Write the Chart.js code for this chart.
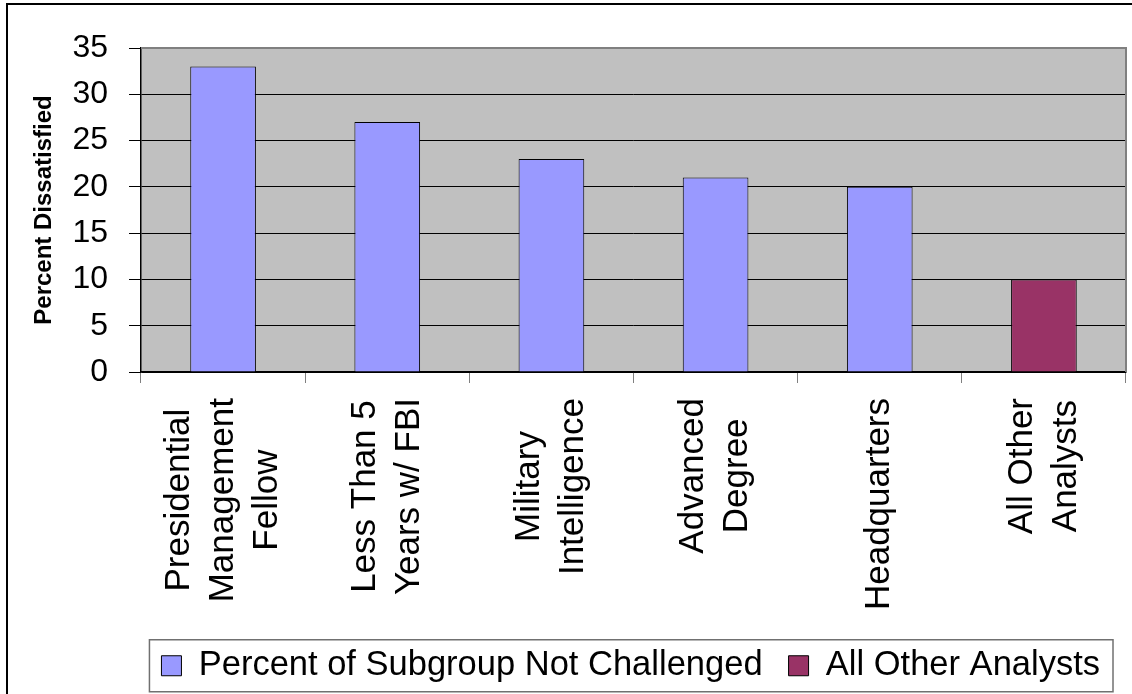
<!DOCTYPE html>
<html><head><meta charset="utf-8">
<script src="https://cdn.jsdelivr.net/npm/chart.js@4"></script>
<style>html,body{margin:0;padding:0;background:#fff;overflow:hidden}#wrap{width:1132px;height:694px;position:relative}</style>
</head><body><div id="wrap"><canvas id="c"></canvas></div>
<script>
const categories = [["Presidential","Management","Fellow"],["Less Than 5","Years w/ FBI"],["Military","Intelligence"],["Advanced","Degree"],["Headquarters"],["All Other","Analysts"]];
const subgroupValues = [33, 27, 23, 21, 20, null];
const otherValues = [null, null, null, null, null, 10];
const yTicks = [0, 5, 10, 15, 20, 25, 30, 35];
const seriesNames = ["Percent of Subgroup Not Challenged", "All Other Analysts"];
const yTitle = "Percent Dissatisfied";
const FONT = '"Liberation Sans", Arial, sans-serif';

const frame = {
  id: 'frame',
  beforeDraw(chart) {
    const {ctx, chartArea: a} = chart;
    ctx.save();
    ctx.fillStyle = '#fff'; ctx.fillRect(0, 0, chart.width, chart.height);
    ctx.fillStyle = '#C0C0C0'; ctx.fillRect(a.left, a.top, a.right - a.left, a.bottom - a.top);
    ctx.restore();
  },
  afterDraw(chart) {
    const {ctx, chartArea: a} = chart;
    ctx.save();
    ctx.strokeStyle = '#808080'; ctx.lineWidth = 2;
    ctx.beginPath(); ctx.moveTo(a.left, a.top); ctx.lineTo(a.right, a.top); ctx.lineTo(a.right, a.bottom); ctx.stroke();
    ctx.strokeStyle = '#000'; ctx.lineWidth = 2;
    ctx.beginPath(); ctx.moveTo(7, chart.height); ctx.lineTo(7, 4); ctx.lineTo(chart.width, 4); ctx.stroke();
    const hb = chart.legend && chart.legend.legendHitBoxes;
    if (hb && hb.length) {
      const last = hb[hb.length - 1];
      const l = hb[0].left - 12, r = last.left + last.width + 13;
      const cy = hb[0].top + hb[0].height / 2;
      ctx.strokeStyle = '#707070'; ctx.lineWidth = 1.5;
      ctx.strokeRect(l, cy - 26, r - l, 52);
    }
    ctx.restore();
  }
};

const xLabels = {
  id: 'xLabels',
  afterDraw(chart) {
    const {ctx} = chart; const sc = chart.scales.x;
    ctx.save();
    ctx.font = '35px ' + FONT; ctx.fillStyle = '#000';
    ctx.textAlign = 'center'; ctx.textBaseline = 'middle';
    const lh = 44; const top = sc.top + 26;
    chart.data.labels.forEach((lines, i) => {
      const arr = Array.isArray(lines) ? lines : [lines];
      const w = Math.max(...arr.map(t => ctx.measureText(t).width));
      const cx = sc.getPixelForValue(i);
      const cy = top + w / 2;
      arr.forEach((t, j) => {
        const x = cx + (j - (arr.length - 1) / 2) * lh;
        ctx.save(); ctx.translate(x, cy); ctx.rotate(-Math.PI / 2); ctx.fillText(t, 0, 0); ctx.restore();
      });
    });
    ctx.restore();
  }
};

new Chart(document.getElementById('c'), {
  type: 'bar',
  data: {
    labels: categories,
    datasets: [
      {label: seriesNames[0], data: subgroupValues, backgroundColor: '#9999FF', borderColor: '#000', borderWidth: 1, grouped: false, barPercentage: 0.4, categoryPercentage: 1},
      {label: seriesNames[1], data: otherValues, backgroundColor: '#993366', borderColor: '#000', borderWidth: 1, grouped: false, barPercentage: 0.4, categoryPercentage: 1}
    ]
  },
  options: {
    responsive: true, maintainAspectRatio: false, animation: false,
    layout: {padding: {left: 10, right: 6, top: 48, bottom: 1}},
    plugins: {
      legend: {position: 'bottom', align: 'end', labels: {font: {size: 34.5, family: FONT}, color: '#000', boxWidth: 20, boxHeight: 20, padding: 26}},
      tooltip: {enabled: false}
    },
    scales: {
      x: {
        grid: {display: true, drawOnChartArea: false, drawTicks: true, tickLength: 11, tickColor: '#808080', offset: true},
        border: {color: '#000', width: 1.5},
        ticks: {display: false},
        afterFit(s) { s.height = 250.5; }
      },
      y: {
        min: 0, max: 35,
        afterBuildTicks(s) { s.ticks = yTicks.map(v => ({value: v})); },
        ticks: {font: {size: 32, family: FONT}, color: '#000', padding: 21},
        grid: {color: '#000', lineWidth: 1, tickLength: 12, tickColor: '#000'},
        border: {color: '#000', width: 1.5},
        title: {display: true, text: yTitle, font: {size: 24, weight: 'bold', family: FONT}, color: '#000', padding: {top: 19.6, bottom: 0}},
        afterFit(s) { s.width = 131; }
      }
    }
  },
  plugins: [frame, xLabels]
});
</script></body></html>
